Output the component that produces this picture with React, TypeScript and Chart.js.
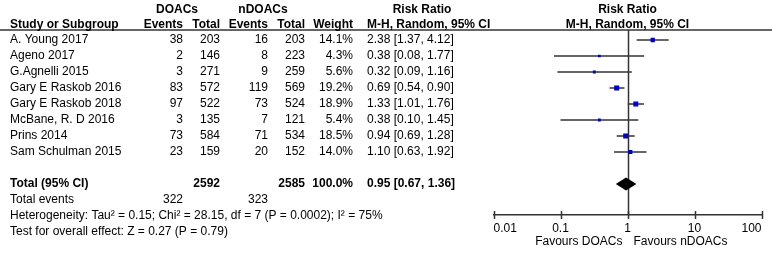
import React, { useEffect, useRef } from 'react';
import { Chart, registerables } from 'chart.js';
Chart.register(...registerables);

const studies = [
  'A. Young 2017',
  'Ageno 2017',
  'G.Agnelli 2015',
  'Gary E Raskob 2016',
  'Gary E Raskob 2018',
  'McBane, R. D 2016',
  'Prins 2014',
  'Sam Schulman 2015',
];
const doacEvents = [38, 2, 3, 83, 97, 3, 73, 23];
const doacTotal = [203, 146, 271, 572, 522, 135, 584, 159];
const ndoacEvents = [16, 8, 9, 119, 73, 7, 71, 20];
const ndoacTotal = [203, 223, 259, 569, 524, 121, 534, 152];
const weights = [14.1, 4.3, 5.6, 19.2, 18.9, 5.4, 18.5, 14.0];
const riskRatio = [2.38, 0.38, 0.32, 0.69, 1.33, 0.38, 0.94, 1.1];
const ciLow = [1.37, 0.08, 0.09, 0.54, 1.01, 0.1, 0.69, 0.63];
const ciHigh = [4.12, 1.77, 1.16, 0.9, 1.76, 1.45, 1.28, 1.92];

const totalDoac = 2592;
const totalNdoac = 2585;
const totalWeight = '100.0%';
const totalRR = 0.95;
const totalLow = 0.67;
const totalHigh = 1.36;
const totalEventsDoac = 322;
const totalEventsNdoac = 323;
const heterogeneityText = 'Heterogeneity: Tau\u00B2 = 0.15; Chi\u00B2 = 28.15, df = 7 (P = 0.0002); I\u00B2 = 75%';
const overallText = 'Test for overall effect: Z = 0.27 (P = 0.79)';

const tickValues = [0.01, 0.1, 1, 10, 100];
const tickLabels = ['0.01', '0.1', '1', '10', '100'];

const TOTAL_ROW = 9;
const FONT = '"Liberation Sans", Arial, sans-serif';

const fmt2 = (v: number) => v.toFixed(2);
const ciText = (r: number, l: number, h: number) => `${fmt2(r)} [${fmt2(l)}, ${fmt2(h)}]`;

export default function App() {
  const ref = useRef<HTMLCanvasElement>(null);

  useEffect(() => {
    const canvas = ref.current;
    if (!canvas) return;

    const datasets: any[] = studies.map((_, i) => ({
      data: [
        { x: ciLow[i], y: i },
        { x: ciHigh[i], y: i },
      ],
      showLine: true,
      borderColor: '#333333',
      borderWidth: 1.5,
      pointRadius: 0,
      order: 2,
    }));
    datasets.push({
      data: riskRatio.map((v, i) => ({ x: v, y: i })),
      pointStyle: 'rect',
      pointRadius: weights.map((w) => (2 + w * 0.16) / Math.SQRT2),
      backgroundColor: '#0000cc',
      borderWidth: 0,
      showLine: false,
      order: 1,
    });

    const tablePlugin = {
      id: 'forestTable',
      beforeDatasetsDraw(chart: any) {
        const { ctx, chartArea, scales } = chart;
        const xs = scales.x;
        ctx.save();
        ctx.strokeStyle = '#333333';
        ctx.lineWidth = 1.5;
        const x1 = Math.round(xs.getPixelForValue(1)) + 0.5;
        ctx.beginPath();
        ctx.moveTo(x1, chartArea.top);
        ctx.lineTo(x1, chartArea.bottom);
        ctx.stroke();
        ctx.restore();
      },
      afterDraw(chart: any) {
        const { ctx, chartArea, scales } = chart;
        const xs = scales.x;
        const ys = scales.y;
        ctx.save();
        // header line
        ctx.strokeStyle = '#333333';
        ctx.lineWidth = 1.5;
        ctx.beginPath();
        ctx.moveTo(0, chartArea.top);
        ctx.lineTo(chart.width, chartArea.top);
        ctx.stroke();

        // axis tick marks
        ctx.lineWidth = 1.5;
        tickValues.forEach((v) => {
          const x = Math.round(xs.getPixelForValue(v)) + 0.5;
          ctx.beginPath();
          ctx.moveTo(x, chartArea.bottom - 4);
          ctx.lineTo(x, chartArea.bottom + 4);
          ctx.stroke();
        });

        // diamond
        const dy = 6.5;
        const yc = ys.getPixelForValue(TOTAL_ROW);
        ctx.fillStyle = '#000000';
        ctx.beginPath();
        ctx.moveTo(xs.getPixelForValue(totalLow), yc);
        ctx.lineTo(xs.getPixelForValue(totalRR), yc - dy);
        ctx.lineTo(xs.getPixelForValue(totalHigh), yc);
        ctx.lineTo(xs.getPixelForValue(totalRR), yc + dy);
        ctx.closePath();
        ctx.fill();

        // text
        ctx.fillStyle = '#000000';
        ctx.textBaseline = 'middle';
        const bold = `bold 12px ${FONT}`;
        const normal = `12px ${FONT}`;
        const text = (s: string, x: number, y: number, align: CanvasTextAlign, b = false) => {
          ctx.font = b ? bold : normal;
          ctx.textAlign = align;
          ctx.fillText(s, x, y);
        };
        const colName = 10;
        const colEv = 183;
        const colTot = 220;
        const colNEv = 268;
        const colNTot = 305;
        const colW = 353;
        const colRR = 367;
        const x1 = xs.getPixelForValue(1);

        // headers
        text('DOACs', 177, 10, 'center', true);
        text('nDOACs', 263, 10, 'center', true);
        text('Risk Ratio', 422, 10, 'center', true);
        text('Risk Ratio', x1, 10, 'center', true);
        text('Study or Subgroup', colName, 25, 'left', true);
        text('Events', colEv, 25, 'right', true);
        text('Total', colTot, 25, 'right', true);
        text('Events', colNEv, 25, 'right', true);
        text('Total', colNTot, 25, 'right', true);
        text('Weight', colW, 25, 'right', true);
        text('M-H, Random, 95% CI', colRR, 25, 'left', true);
        text('M-H, Random, 95% CI', x1, 25, 'center', true);

        studies.forEach((s, i) => {
          const y = ys.getPixelForValue(i);
          text(s, colName, y, 'left');
          text(String(doacEvents[i]), colEv, y, 'right');
          text(String(doacTotal[i]), colTot, y, 'right');
          text(String(ndoacEvents[i]), colNEv, y, 'right');
          text(String(ndoacTotal[i]), colNTot, y, 'right');
          text(weights[i].toFixed(1) + '%', colW, y, 'right');
          text(ciText(riskRatio[i], ciLow[i], ciHigh[i]), colRR, y, 'left');
        });

        const yt = ys.getPixelForValue(TOTAL_ROW);
        text('Total (95% CI)', colName, yt, 'left', true);
        text(String(totalDoac), colTot, yt, 'right', true);
        text(String(totalNdoac), colNTot, yt, 'right', true);
        text(totalWeight, colW, yt, 'right', true);
        text(ciText(totalRR, totalLow, totalHigh), colRR, yt, 'left', true);

        const ye = ys.getPixelForValue(TOTAL_ROW + 1);
        text('Total events', colName, ye, 'left');
        text(String(totalEventsDoac), colEv, ye, 'right');
        text(String(totalEventsNdoac), colNEv, ye, 'right');
        text(heterogeneityText, colName, ys.getPixelForValue(TOTAL_ROW + 2), 'left');
        text(overallText, colName, ys.getPixelForValue(TOTAL_ROW + 3), 'left');

        text('Favours DOACs', x1 - 5, 242, 'right');
        text('Favours nDOACs', x1 + 6, 242, 'left');
        ctx.restore();
      },
    };

    const chart = new Chart(canvas, {
      type: 'scatter',
      data: { datasets },
      options: {
        animation: false,
        responsive: false,
        devicePixelRatio: 1,
        events: [],
        layout: { padding: { left: 493.5, right: 10.5, top: 30, bottom: 0 } },
        plugins: { legend: { display: false }, tooltip: { enabled: false }, title: { display: false } },
        scales: {
          x: {
            type: 'logarithmic',
            min: 0.01,
            max: 100,
            position: 'bottom',
            grid: { display: false, drawTicks: false },
            border: { display: true, color: '#333333', width: 1.5 },
            afterBuildTicks: (scale: any) => {
              scale.ticks = tickValues.map((v) => ({ value: v }));
            },
            afterFit: (scale: any) => {
              scale.height = 40;
            },
            ticks: {
              align: 'inner',
              autoSkip: false,
              maxRotation: 0,
              padding: 6,
              color: '#000000',
              font: { family: FONT, size: 12 },
              callback: (_v: any, i: number) => tickLabels[i],
            },
          },
          y: {
            type: 'linear',
            min: -0.625,
            max: 10.9375,
            reverse: true,
            display: false,
          },
        },
      } as any,
      plugins: [tablePlugin],
    });
    return () => chart.destroy();
  }, []);

  return (
    <div style={{ position: 'absolute', left: 0, top: 0, width: 772, height: 255, background: '#ffffff' }}>
      <canvas ref={ref} width={772} height={255} style={{ display: 'block', width: 772, height: 255 }} />
    </div>
  );
}
